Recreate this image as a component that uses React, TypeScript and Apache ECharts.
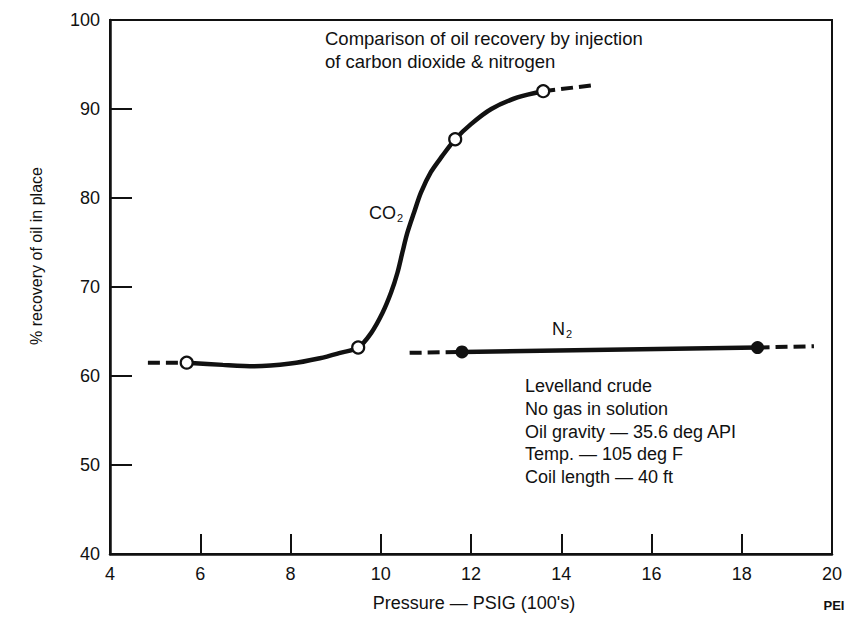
import React, { useEffect, useRef } from "react";
import * as echarts from "echarts";

// Axis ticks
const xTicks = [4, 20, 2];
const yTicks = [40, 100, 10];

// CO2 fitted curve
const co2CurveP = [5.7, 6.5, 7.2, 8.0, 8.65, 9.1, 9.5, 9.79, 10.04, 10.23, 10.37, 10.48, 10.59, 10.74, 10.89, 11.11, 11.36, 11.65, 12.0, 12.45, 13.03, 13.6];
const co2CurveR = [61.5, 61.25, 61.1, 61.4, 62.0, 62.6, 63.2, 64.85, 67.1, 69.4, 71.6, 73.9, 76.1, 78.4, 80.6, 82.9, 84.7, 86.6, 88.3, 90.0, 91.3, 92.0];
// CO2 measured points (open circles)
const co2PointP = [5.7, 9.5, 11.65, 13.6];
const co2PointR = [61.5, 63.2, 86.6, 92.0];
// CO2 dashed extrapolations
const co2DashLeftP = [4.84, 5.7];
const co2DashLeftR = [61.5, 61.5];
const co2DashRightP = [13.6, 14.75];
const co2DashRightR = [92.0, 92.7];

// N2 line and points (filled circles)
const n2SolidP = [11.8, 18.35];
const n2SolidR = [62.7, 63.2];
const n2PointP = [11.8, 18.35];
const n2PointR = [62.7, 63.2];
const n2DashLeftP = [10.64, 11.8];
const n2DashLeftR = [62.6, 62.7];
const n2DashRightP = [18.35, 19.6];
const n2DashRightR = [63.2, 63.35];

const titleLines = ["Comparison of oil recovery by injection", "of carbon dioxide & nitrogen"];
const noteLines = [
  "Levelland crude",
  "No gas in solution",
  "Oil gravity — 35.6 deg API",
  "Temp. — 105 deg F",
  "Coil length — 40 ft",
];

const zip = (a: number[], b: number[]) => a.map((v, i) => [v, b[i]]);

const FONT = "'Liberation Sans', Arial, Helvetica, sans-serif";
const INK = "#111";

export default function App() {
  const ref = useRef<HTMLDivElement>(null);
  useEffect(() => {
    if (!ref.current) return;
    const chart = echarts.init(ref.current, null, { renderer: "svg" });
    const dash = { color: INK, width: 4, type: [12, 6] as any, cap: "butt" as any };
    const solid = { color: INK, width: 4.5 };
    chart.setOption({
      animation: false,
      backgroundColor: "#fff",
      grid: {
        left: 110,
        right: 17,
        top: 20,
        bottom: 69,
        show: true,
        borderColor: INK,
        borderWidth: 2,
        backgroundColor: "transparent",
      },
      xAxis: {
        type: "value",
        min: xTicks[0],
        max: xTicks[1],
        interval: xTicks[2],
        axisLine: { show: true, lineStyle: { color: INK, width: 2.5 } },
        axisTick: { show: true, inside: true, length: 20, lineStyle: { color: INK, width: 2 } },
        splitLine: { show: false },
        axisLabel: { color: INK, fontFamily: FONT, fontSize: 18, margin: 11 },
      },
      yAxis: {
        type: "value",
        min: yTicks[0],
        max: yTicks[1],
        interval: yTicks[2],
        axisLine: { show: true, lineStyle: { color: INK, width: 2.5 } },
        axisTick: { show: true, inside: true, length: 22, lineStyle: { color: INK, width: 2 } },
        splitLine: { show: false },
        axisLabel: { color: INK, fontFamily: FONT, fontSize: 18, margin: 10 },
      },
      series: [
        {
          name: "CO2 curve",
          type: "line",
          data: zip(co2CurveP, co2CurveR),
          smooth: 0.3,
          showSymbol: false,
          lineStyle: solid,
          z: 2,
        },
        { type: "line", data: zip(co2DashLeftP, co2DashLeftR), showSymbol: false, lineStyle: dash, z: 2 },
        { type: "line", data: zip(co2DashRightP, co2DashRightR), showSymbol: false, lineStyle: dash, z: 2 },
        {
          name: "CO2 points",
          type: "scatter",
          data: zip(co2PointP, co2PointR),
          symbol: "circle",
          symbolSize: 12,
          itemStyle: { color: "#fff", borderColor: INK, borderWidth: 2.2, opacity: 1 },
          z: 5,
        },
        { name: "N2 line", type: "line", data: zip(n2SolidP, n2SolidR), showSymbol: false, lineStyle: solid, z: 2 },
        { type: "line", data: zip(n2DashLeftP, n2DashLeftR), showSymbol: false, lineStyle: dash, z: 2 },
        { type: "line", data: zip(n2DashRightP, n2DashRightR), showSymbol: false, lineStyle: dash, z: 2 },
        {
          name: "N2 points",
          type: "scatter",
          data: zip(n2PointP, n2PointR),
          symbol: "circle",
          symbolSize: 13,
          itemStyle: { color: INK, opacity: 1 },
          z: 5,
        },
      ],
      graphic: [
        ...titleLines.map((t, i) => ({
          type: "text",
          left: 325,
          top: 29 + i * 23,
          style: { text: t, font: `18.5px ${FONT}`, fill: INK },
        })),
        ...noteLines.map((t, i) => ({
          type: "text",
          left: 525,
          top: 377 + i * 22.8,
          style: { text: t, font: `18px ${FONT}`, fill: INK },
        })),
        {
          type: "text",
          left: 369,
          top: 204,
          style: {
            text: "CO{s|2}",
            font: `18px ${FONT}`,
            fill: INK,
            rich: { s: { fontSize: 11, fontFamily: FONT, padding: [9, 0, 0, 1], fill: INK } },
          },
        },
        {
          type: "text",
          left: 552,
          top: 320,
          style: {
            text: "N{s|2}",
            font: `18px ${FONT}`,
            fill: INK,
            rich: { s: { fontSize: 11, fontFamily: FONT, padding: [9, 0, 0, 1], fill: INK } },
          },
        },
        {
          type: "text",
          x: 474,
          y: 603,
          style: { text: "Pressure — PSIG (100's)", font: `18px ${FONT}`, fill: INK, textAlign: "center", textVerticalAlign: "middle" },
        },
        {
          type: "text",
          x: 36,
          y: 256,
          rotation: Math.PI / 2,
          style: { text: "% recovery of oil in place", font: `16px ${FONT}`, fill: INK, textAlign: "center", textVerticalAlign: "middle" },
        },
        {
          type: "text",
          x: 834,
          y: 605,
          style: { text: "PEI", font: `bold 13px ${FONT}`, fill: INK, textAlign: "center", textVerticalAlign: "middle" },
        },
      ],
    });
    return () => chart.dispose();
  }, []);
  return <div ref={ref} style={{ width: 849, height: 623, position: "absolute", left: 0, top: 0 }} />;
}
